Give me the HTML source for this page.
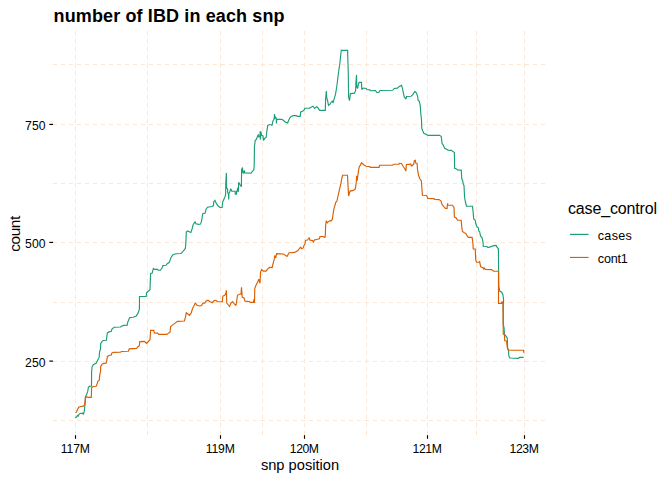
<!DOCTYPE html>
<html><head><meta charset="utf-8"><title>number of IBD in each snp</title>
<style>
html,body{margin:0;padding:0;background:#fff;}
body{width:672px;height:480px;overflow:hidden;font-family:"Liberation Sans",sans-serif;}
svg{display:block;}
text{font-family:"Liberation Sans",sans-serif;fill:#000;}
</style></head><body>
<svg width="672" height="480" viewBox="0 0 672 480">
<rect width="672" height="480" fill="#fff"/>
<g stroke="#FCE6D2" stroke-width="1" stroke-dasharray="4 4" fill="none" shape-rendering="crispEdges">
<line x1="75.5" y1="31" x2="75.5" y2="435" />
<line x1="147.5" y1="31" x2="147.5" y2="435" />
<line x1="220.5" y1="31" x2="220.5" y2="435" />
<line x1="262.5" y1="31" x2="262.5" y2="435" />
<line x1="304.5" y1="31" x2="304.5" y2="435" />
<line x1="366.5" y1="31" x2="366.5" y2="435" />
<line x1="427.5" y1="31" x2="427.5" y2="435" />
<line x1="476.5" y1="31" x2="476.5" y2="435" />
<line x1="524.5" y1="31" x2="524.5" y2="435" />
<line x1="53" y1="64.5" x2="545" y2="64.5" />
<line x1="53" y1="124.5" x2="545" y2="124.5" />
<line x1="53" y1="183.5" x2="545" y2="183.5" />
<line x1="53" y1="242.5" x2="545" y2="242.5" />
<line x1="53" y1="302.5" x2="545" y2="302.5" />
<line x1="53" y1="361.5" x2="545" y2="361.5" />
<line x1="53" y1="420.5" x2="545" y2="420.5" />
</g>
<polyline fill="none" stroke="#1B9E77" stroke-width="1.15" stroke-linejoin="miter" stroke-miterlimit="2" points="75.2,417.7 76.4,417.1 77.5,415.6 78,416.4 79,414.3 80,413.5 82.7,413.2 83.5,414.3 84.2,411.7 84.75,406.5 85.3,402.3 85.5,396.6 86.8,394 87.7,391.4 88.4,387.2 89.4,386.4 91.5,386.1 91.6,372 92.1,366.8 93.4,364.7 96.3,363.1 97.5,360.5 99.1,357.4 99.6,351.7 100.5,349.1 100.7,343.35 102.2,341.3 103.3,340.5 106.4,340.2 106.7,337.4 107.4,332.9 109,331.9 111.3,331.2 111.9,329.1 114.2,327.2 120.5,327 121.5,326.2 123.6,325.4 127.2,325.1 127.5,322.9 128.75,319.75 129.75,317.6 133.1,317.25 136.25,316 138.1,312.9 139.4,309.1 139.5,296.5 146.25,296.5 146.6,292.75 150,289.75 150.6,273.5 152.25,273.1 152.9,270 153.5,268.5 154.75,269.4 157.25,269.4 158.5,270.25 160.4,270.25 162,268.1 162.9,265.6 166,265.25 167.25,263.75 169.1,262.5 170.4,259.4 171,257.5 172.9,254.75 176,253.75 181,253.5 182.5,251.9 183.6,250.5 185.35,248.5 185.9,242.3 186.3,232 187.7,231 189.75,232 190.85,232.4 192.2,228.5 193.2,224.4 195.25,221.6 195.9,223.7 198.7,224.4 200.5,224.1 201.4,221.6 202.8,213.7 205.2,213.1 206,209.25 207.6,207.2 211.75,206.5 213.4,205.8 213.8,201.7 214.9,200.3 216.2,203.1 217.95,205.8 220,207.5 222.1,207.5 222.75,201.7 224.4,198.25 224.75,197.5 225.6,195 225.8,183.3 226.4,172.9 226.6,188.3 227.5,188.75 227.8,192.9 228.5,194.2 228.7,199.5 228.9,193.3 229.75,192.1 230.6,188.75 231.4,190 231.8,191.25 235.2,191.25 235.3,194.2 236.4,194.2 236.6,191.25 237.25,190.8 237.8,187.5 238.3,192.1 238.7,182.3 239.75,184.2 240.6,185.8 241.4,186.25 241.6,169.6 242.5,167.5 242.8,172.5 243.5,173.3 244.3,170.4 244.75,172.9 251,173.2 252.7,171.25 253.9,169.6 254.2,165.8 254.5,145 254.7,144.8 255.2,140.6 256.5,139.1 257.5,136.5 258.3,134.4 258.85,137 259.9,136.5 260.2,131.25 260.4,139.6 260.9,131.25 261.5,135.4 263,135.9 263.5,140.6 264.6,138.5 266.1,137.5 266.7,132.3 267.7,125.5 269.3,124.7 271.35,124.7 272.1,125.5 272.7,121.35 273.4,120.3 274.2,118.75 274.5,114.1 274.8,118.75 275.5,117.2 276.25,118.2 276.5,123.4 276.7,119.3 281.8,119.3 283.3,120.3 285.4,122.1 287,122.4 287.5,123.4 288.5,120.8 289.6,118.2 291.1,116.5 293.2,115.6 296.35,115.6 297.4,116.35 300.2,116.35 300.7,112 302.6,111.25 304.2,109.9 304.7,108.3 309.4,108.1 311.5,107.1 313,106.25 314.6,108.3 315.6,107.8 316.7,106.5 318.2,108.1 319.6,110.4 321.2,110.35 325.3,110.35 325.6,99.4 326.3,91 326.75,98 327.5,100.1 328.5,105.25 329.7,104.5 331.1,102.3 332.6,100.9 333,103 334,99.4 335.5,94.3 336.7,87 337.7,79 338.7,71 339.9,63 340.6,55.7 341.3,50.4 347.6,50.4 347.9,62.2 348.3,73.2 348.6,97.2 349.5,100.6 350.4,93.6 354.5,93.1 355.6,90.7 355.9,83.4 356.5,74.9 356.8,87 357.7,88.5 358.1,85.6 359.1,82.4 361.5,82.4 361.75,89.5 363.2,88 366.1,88.5 366.9,89.5 369.8,89.9 370.5,90.7 375.5,90.5 376.75,92.5 378.75,92.5 380,90.5 392.75,90.25 394.25,88.5 397.4,88.1 399.25,86.5 401.5,85.25 402.4,88.1 403.25,92.5 404.25,96.9 406.1,99 406.5,96.5 411.1,96.25 413,94.4 414.9,91.5 416.5,93.1 417.75,96.9 418,100 419.25,101.25 420.25,105.6 420.75,113.1 421.5,120 421.75,128.1 422.75,131 424,133.5 425.9,134.1 427.75,135.4 439.6,135.4 441.25,136.6 442.1,143.5 443.4,145.4 444.6,148.25 446.25,149.1 448,150.1 451.5,150.4 453,151.6 454.4,152.5 454.6,168.25 456.5,168.9 457.5,170 461.25,170.1 461.75,178.5 462.75,181 463.4,184.75 464,185.25 464.6,197.75 465.6,202.75 466.5,206.25 472.5,206.25 473,210.9 473.75,219 475.25,220.25 475.9,224 477.1,227.1 478.4,227.75 478.75,230.9 479.6,231.5 480.5,235.9 482.1,237.75 483,242.1 483.25,246.25 486.75,246.5 488,247.5 490.25,246.9 493.6,245.6 496.1,245.4 497,247.25 498.4,248.75 498.6,271.25 498.8,286.25 499.9,291.25 501.75,292.25 503,295 503.6,300 503.25,304.5 503.25,324 504.1,328.4 504.4,334.2 505.9,336.1 507.3,338.3 507.6,347.8 508.5,350.7 508.8,355.8 510,358 518.7,358.3 519.3,357.3 523.7,357.3"/>
<polyline fill="none" stroke="#D95F02" stroke-width="1.15" stroke-linejoin="miter" stroke-miterlimit="2" points="75.2,412.5 76.4,412.2 77.7,409.1 78.7,407.3 80.6,406.5 83.2,406.1 84.5,404.9 85,402.3 85.4,397.3 86.8,396.9 88.4,397.4 91.3,397.4 91.6,387.7 93.1,386.5 96.2,386.25 97.25,383.5 97.8,381.25 99.3,380.1 99.85,374.2 100.5,372 100.7,366.3 102.2,364.2 103.6,363.35 106.1,363.1 106.7,361.1 107.4,356.4 109,355.5 111.3,355.1 111.6,353.25 113.2,352.4 120.5,352.2 121.5,351.5 128.3,351.2 129.3,348.9 136.6,348.35 138.2,346.5 139.4,345.75 139.75,341.6 144.4,341.4 146.5,343.5 150,339.75 150.6,330.4 153.75,330.4 154.4,332.9 157.5,333.1 158.75,334.4 166.9,334.4 168.75,332.9 170,332.25 170.6,326.6 173.75,324.1 177.5,321.4 184.4,321 185.6,316.6 186.25,312.5 189.4,315.4 191.25,312.9 192.5,308.5 193.75,306.25 195.4,302.75 196.6,305 199.75,306 201.6,305.6 202.9,303.1 204.75,303.1 206,301.25 207.9,300.25 209.75,301.5 212.25,302.75 214.1,300.6 216,300.25 217.5,301.75 222.25,301.75 222.9,296.1 224.75,295.25 225.75,293.6 226.4,290.25 226.75,303 227.9,304.5 229.5,306.5 231,303 232.5,301.5 234.1,303.6 236,305.5 236.6,301.75 237.5,295.25 239.1,294.25 241,294.25 241.5,287.4 242.25,297.4 244.1,298 245,301.1 249.1,301.5 250.4,302.4 253.5,302.4 253.9,299.25 254.5,303 254.75,288.6 256,285.25 257.9,281.5 258.75,279.25 260,283.25 260.5,272.4 261.6,269.5 263.5,271.1 266,271.1 267.9,268.6 269.75,267.4 272.25,267.4 272.9,264.25 274.1,259.9 274.75,255.5 275.75,258 276.6,253.6 283.5,254 287,256.5 289.1,252.75 294.75,252.4 297.9,250.5 300,247.75 300.6,246.9 301.25,248.5 303.1,248.1 304,245.6 305,243.75 305.6,240.25 307.5,240 309.4,237.5 309.75,240 312.5,240.6 313.5,241.9 314.4,240 319.4,238.75 320,236.5 323.1,236.5 324.4,237.25 325.25,236.9 325.6,226.25 326.25,220.6 327.25,223.1 328.1,221.9 330,220.6 331,221 332.25,219.4 332.9,215.6 333.75,209.4 334.75,206.25 335.6,202.5 336.9,201.25 337.4,198.75 339.1,191.1 340.9,183.4 341.6,179.2 342.6,175.25 347.5,175.25 347.9,183.4 348.6,196 350,191.1 353.5,190.4 355.3,189 356.3,182 356.7,175.7 357.25,180.6 358.1,173.6 359.1,167.3 360.5,164.9 361.5,162.7 363.3,164.5 366.1,166.3 369.6,166.6 370.3,167.4 379.1,167.4 379.6,165.2 392.65,165.2 393.6,164.2 398.9,164.2 399.6,163.4 401.5,163.5 403.1,166.3 404.8,168.7 405.9,171.1 406.4,164.5 410.8,164.2 411.5,166.3 412.65,164.9 413.6,164.5 414.3,160.7 415.3,160.3 415.7,163.1 417.1,163.4 417.5,169.4 418.5,175 419.65,178.5 421.3,180.6 421.75,186.2 422.4,195.3 426.6,195.5 427.6,197.6 427.75,198.4 434,198.6 434.6,199.4 439,199.6 440.9,200.9 442.1,204.6 444,206.9 445.5,208.4 447.1,208.4 447.5,203.4 447.75,205.25 452.5,205.25 454,207.5 454.4,217.1 456.25,218 457.5,220.25 461.25,220.25 461.75,227.1 462.5,231.5 464.25,232.75 465.9,233.4 467.1,235.9 468.4,237.4 472.1,237.4 472.75,241.5 473.25,249 475.25,249 475.75,260 476.5,262.25 479.25,262.25 479.6,261.25 480,263.75 480.75,266.9 483,267.75 483.6,269.4 484.25,268.1 485.5,269.4 491.5,269.6 493.6,271.25 498.5,271.25 498.5,303.3 501.5,303.3 502.2,301.5 503,304 503.25,334.2 504.4,334.6 504.7,340.5 506.6,341.2 507.3,347.8 508.5,350.2 523.7,350.3 523.7,352.8"/>
<g stroke="#000" stroke-width="1.15">
<line x1="75.5" y1="435.2" x2="75.5" y2="438.8"/>
<line x1="220.5" y1="435.2" x2="220.5" y2="438.8"/>
<line x1="304.5" y1="435.2" x2="304.5" y2="438.8"/>
<line x1="427.5" y1="435.2" x2="427.5" y2="438.8"/>
<line x1="524.5" y1="435.2" x2="524.5" y2="438.8"/>
<line x1="49.3" y1="124.4" x2="53" y2="124.4"/>
<line x1="49.3" y1="242.4" x2="53" y2="242.4"/>
<line x1="49.3" y1="361.1" x2="53" y2="361.1"/>
</g>
<g font-size="12.2px">
<text x="75.4" y="453" text-anchor="middle" textLength="29.2" lengthAdjust="spacing">117M</text>
<text x="220.3" y="453" text-anchor="middle" textLength="29.2" lengthAdjust="spacing">119M</text>
<text x="304.4" y="453" text-anchor="middle" textLength="29.2" lengthAdjust="spacing">120M</text>
<text x="427.2" y="453" text-anchor="middle" textLength="29.2" lengthAdjust="spacing">121M</text>
<text x="524.2" y="453" text-anchor="middle" textLength="29.2" lengthAdjust="spacing">123M</text>
<text x="45.6" y="130" text-anchor="end" textLength="20.6" lengthAdjust="spacing">750</text>
<text x="45.6" y="248" text-anchor="end" textLength="20.6" lengthAdjust="spacing">500</text>
<text x="45.6" y="366.6" text-anchor="end" textLength="20.6" lengthAdjust="spacing">250</text>
</g>
<text x="53.6" y="21.6" font-size="18px" font-weight="bold" textLength="231" lengthAdjust="spacing">number of IBD in each snp</text>
<text x="300" y="470" font-size="14.67px" text-anchor="middle">snp position</text>
<text transform="translate(20.3,233.7) rotate(-90)" font-size="15.4px" text-anchor="middle" textLength="35.9" lengthAdjust="spacing">count</text>
<text x="568" y="213.9" font-size="16px" textLength="89" lengthAdjust="spacing">case_control</text>
<line x1="570" y1="234.4" x2="588.6" y2="234.4" stroke="#1B9E77" stroke-width="1.15"/>
<line x1="570" y1="257.45" x2="588.6" y2="257.45" stroke="#D95F02" stroke-width="1.15"/>
<g font-size="12.6px">
<text x="597.8" y="239.6" textLength="34" lengthAdjust="spacing">cases</text>
<text x="597.8" y="263" textLength="30" lengthAdjust="spacing">cont1</text>
</g>
</svg>
</body></html>
